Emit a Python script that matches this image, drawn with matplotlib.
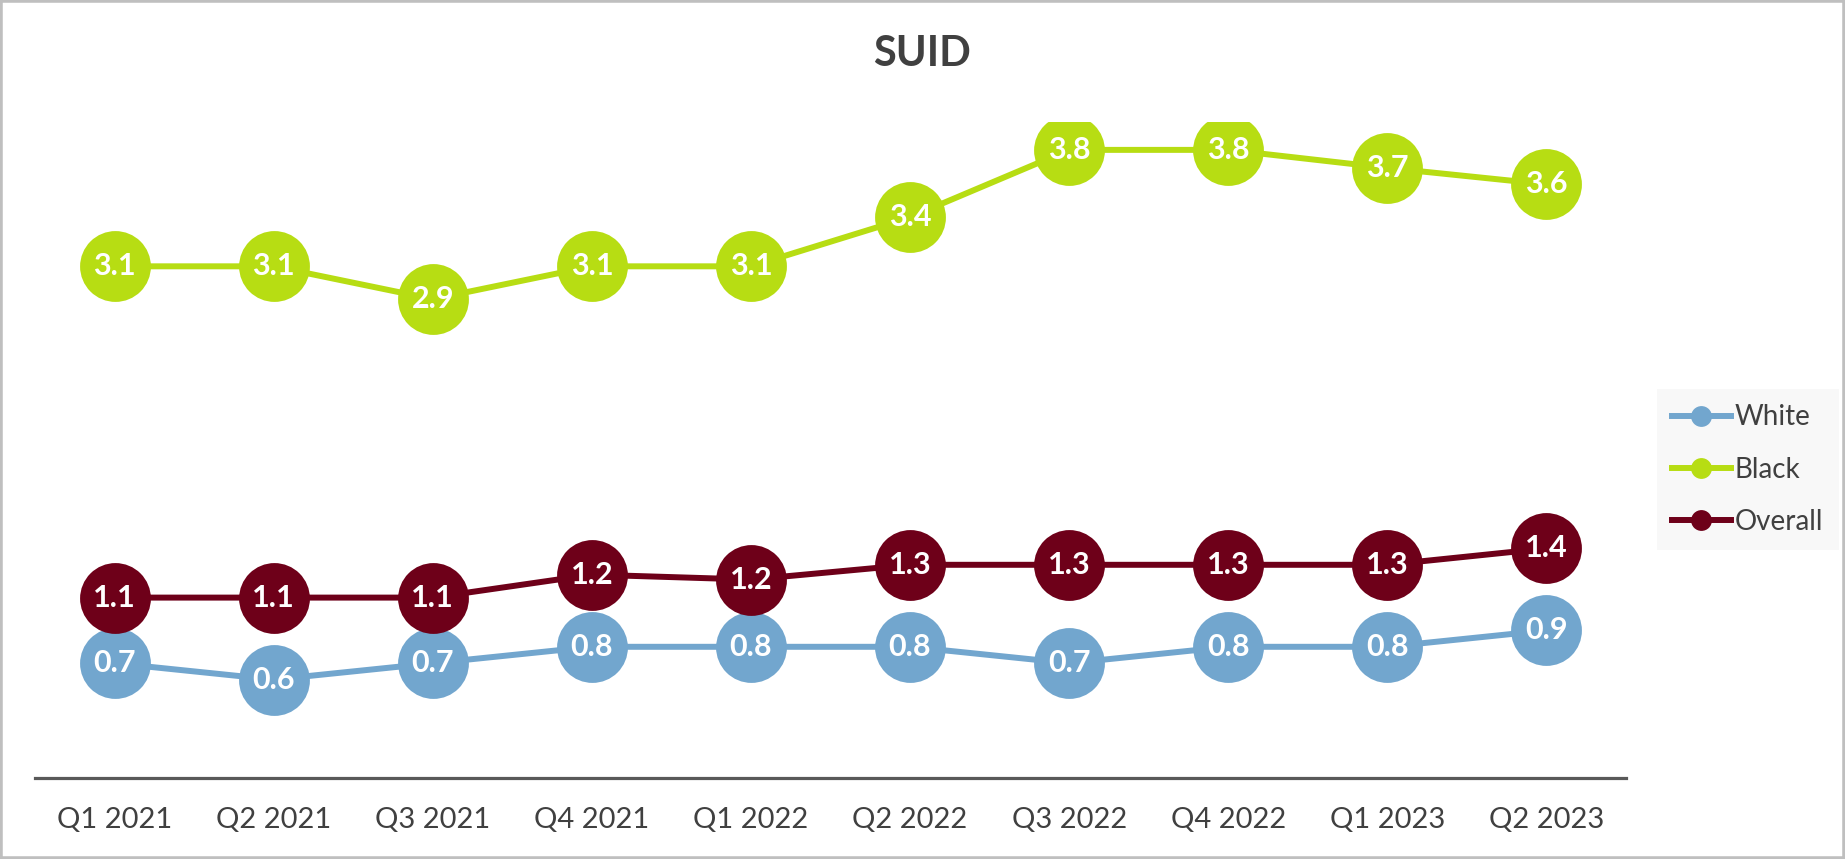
import matplotlib.pyplot as plt
from matplotlib.patches import Rectangle

quarters = ["Q1 2021", "Q2 2021", "Q3 2021", "Q4 2021", "Q1 2022",
            "Q2 2022", "Q3 2022", "Q4 2022", "Q1 2023", "Q2 2023"]
white = [0.70, 0.60, 0.70, 0.80, 0.80, 0.80, 0.70, 0.80, 0.80, 0.90]
black = [3.12, 3.12, 2.92, 3.12, 3.12, 3.42, 3.83, 3.83, 3.72, 3.62]
overall = [1.10, 1.10, 1.10, 1.24, 1.21, 1.30, 1.30, 1.30, 1.30, 1.40]
labels_white = ["0.7", "0.6", "0.7", "0.8", "0.8", "0.8", "0.7", "0.8", "0.8", "0.9"]
labels_black = ["3.1", "3.1", "2.9", "3.1", "3.1", "3.4", "3.8", "3.8", "3.7", "3.6"]
labels_overall = ["1.1", "1.1", "1.1", "1.2", "1.2", "1.3", "1.3", "1.3", "1.3", "1.4"]

series = [
    ("White", white, labels_white, "#72A6CE"),
    ("Black", black, labels_black, "#B7DD13"),
    ("Overall", overall, labels_overall, "#6E0019"),
]

plt.rcParams["font.family"] = ["Lato", "DejaVu Sans"]
text_color = "#404040"

fig = plt.figure(figsize=(18.45, 8.59), dpi=100)
ax = fig.add_axes([35 / 1845, 81 / 859, 1591 / 1845, 656 / 859])

x = list(range(len(quarters)))
for name, vals, labs, color in series:
    ax.plot(x, vals, color=color, lw=4.3, marker="o", markersize=51,
            markeredgewidth=0, label=name, zorder=3)
    for xi, v, lab in zip(x, vals, labs):
        ax.text(xi, v, lab, ha="center", va="center", color="white",
                fontsize=22, fontweight="bold", zorder=4)

ax.set_xlim(-0.5, 9.5)
ax.set_ylim(0, 4)
ax.set_yticks([])
ax.set_xticks(x)
ax.set_xticklabels(quarters, fontsize=21, color=text_color)
ax.tick_params(axis="x", length=0, pad=21)
for side in ["top", "right", "left"]:
    ax.spines[side].set_visible(False)
ax.spines["bottom"].set_color("#595959")
ax.spines["bottom"].set_linewidth(2.3)

fig.text(0.5, 1 - 54 / 859, "SUID", ha="center", va="center",
         fontsize=30, fontweight="bold", color=text_color)

handles, names = ax.get_legend_handles_labels()
leg = fig.legend(handles, names, loc="upper left",
                 bbox_to_anchor=(1657 / 1845, 1 - 389 / 859),
                 fontsize=20, frameon=True, facecolor="#F7F7F7",
                 edgecolor="none", fancybox=False, markerscale=15 / 51,
                 handlelength=2.1, handletextpad=0.15, labelspacing=0.95,
                 borderpad=0.55, borderaxespad=0)
for t in leg.get_texts():
    t.set_color(text_color)
for h in leg.legend_handles:
    h.set_linewidth(4.3)

fig.patches.append(Rectangle((0, 0), 1, 1, transform=fig.transFigure,
                             fill=False, edgecolor="#BFBFBF", lw=4))

fig.savefig("out.png", dpi=100)
